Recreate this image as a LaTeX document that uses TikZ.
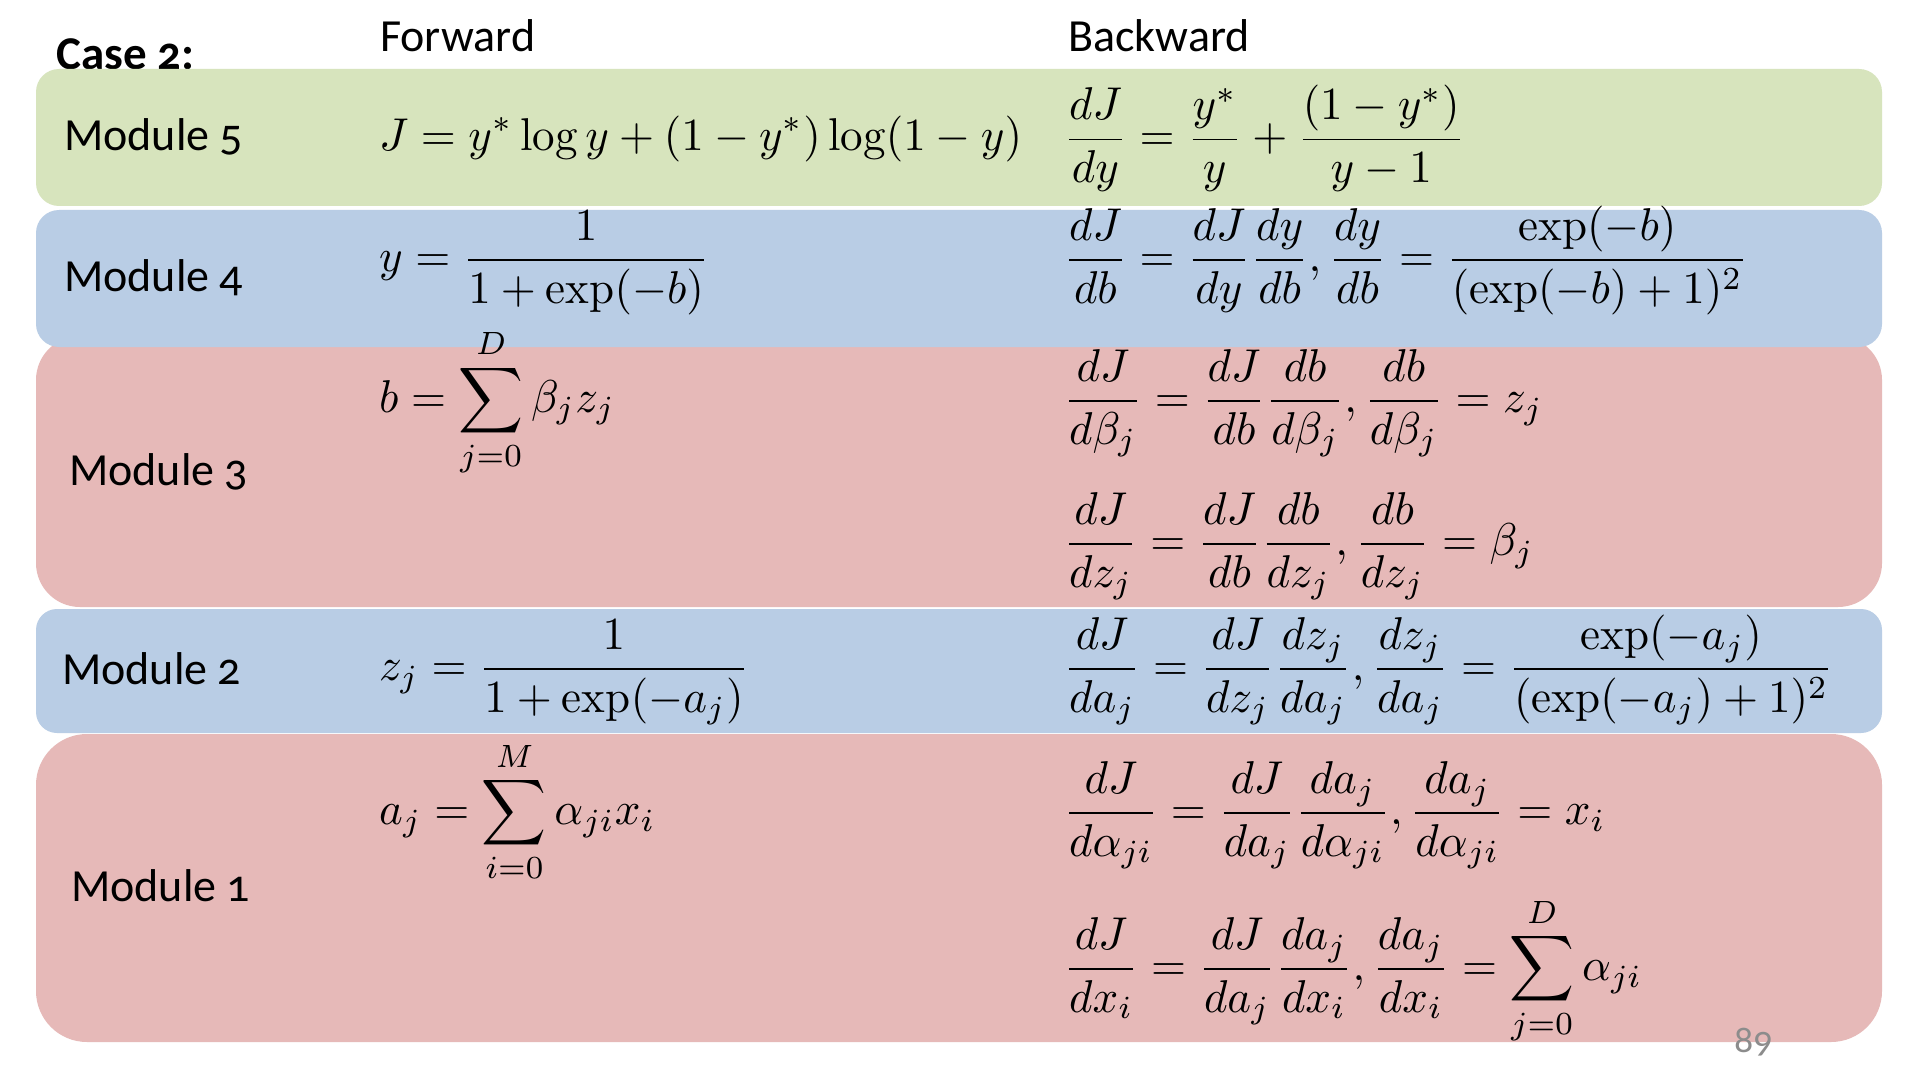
\documentclass[tikz,border=0pt]{standalone}
\usepackage{amsmath}
\usepackage{fontspec}
\newfontfamily\labelfont[Numbers=OldStyle]{Carlito}
\definecolor{greenbox}{HTML}{D7E4BD}
\definecolor{bluebox}{HTML}{B9CDE5}
\definecolor{redbox}{HTML}{E6B9B8}
\definecolor{pagenum}{HTML}{8C8C8C}
\newcommand{\eqscaled}[1]{\scalebox{4.5}[4.6]{$\displaystyle #1$}}
\tikzset{
  lbl/.style={anchor=base west, inner sep=0pt, font=\labelfont\fontsize{46}{55}\selectfont},
  head/.style={anchor=base west, inner sep=0pt, font=\labelfont\fontsize{46}{55}\selectfont},
  eq/.style={anchor=base west, inner sep=0pt, font=\fontsize{10}{12}\selectfont},
}
\begin{document}
\begin{tikzpicture}[x=1pt,y=-1pt]
\useasboundingbox (0,0) rectangle (1932,1078);
\fill[white] (0,0) rectangle (1932,1078);
% header
\node[head, font=\labelfont\bfseries\fontsize{47}{56}\selectfont] (case) at (56,70) {Case 2:};
\node[head] (fwd) at (380,52) {Forward};
\node[head] (bwd) at (1068,52) {Backward};
% boxes
\fill[greenbox, rounded corners=23] (36,69) rectangle (1882,206);
\fill[redbox, rounded corners=44] (36,336) rectangle (1882,607);
\fill[bluebox, rounded corners=23] (36,210) rectangle (1882,347);
\fill[bluebox, rounded corners=21] (36,609) rectangle (1882,733);
\fill[redbox, rounded corners=51] (36,734) rectangle (1882,1042);
% labels
\node[lbl] (l5) at (64,151) {Module 5};
\node[lbl] (l4) at (64,291) {Module 4};
\node[lbl] (l3) at (69,485) {Module 3};
\node[lbl] (l2) at (62,684) {Module 2};
\node[lbl] (l1) at (71,901) {Module 1};
% forward
\node[eq] (f5) at (379,151) {\eqscaled{J = y^*\log y + (1-y^*)\log(1-y)}};
\node[eq] (f4) at (379,271.5) {\eqscaled{y = \frac{1}{1+\exp(-b)}}};
\node[eq] (f3) at (379,412) {\eqscaled{b = \sum_{j=0}^{D}\beta_j z_j}};
\node[eq] (f2) at (379,680.5) {\eqscaled{z_j = \frac{1}{1+\exp(-a_j)}}};
\node[eq] (f1) at (379,824.5) {\eqscaled{a_j = \sum_{i=0}^{M}\alpha_{ji}x_i}};
% backward
\node[eq] (b5) at (1063.5,151) {\eqscaled{\frac{dJ}{dy} = \frac{y^*}{y} + \frac{(1-y^*)}{y-1}}};
\node[eq] (b4) at (1063.5,271.5) {\eqscaled{\frac{dJ}{db} = \frac{dJ}{dy}\frac{dy}{db}, \frac{dy}{db} = \frac{\exp(-b)}{(\exp(-b)+1)^2}}};
\node[eq] (b3a) at (1063.5,412.5) {\eqscaled{\frac{dJ}{d\beta_j} = \frac{dJ}{db}\frac{db}{d\beta_j}, \frac{db}{d\beta_j} = z_j}};
\node[eq] (b3b) at (1063.5,555.5) {\eqscaled{\frac{dJ}{dz_j} = \frac{dJ}{db}\frac{db}{dz_j}, \frac{db}{dz_j} = \beta_j}};
\node[eq] (b2) at (1063.5,680.5) {\eqscaled{\frac{dJ}{da_j} = \frac{dJ}{dz_j}\frac{dz_j}{da_j}, \frac{dz_j}{da_j} = \frac{\exp(-a_j)}{(\exp(-a_j)+1)^2}}};
\node[eq] (b1a) at (1063.5,824.5) {\eqscaled{\frac{dJ}{d\alpha_{ji}} = \frac{dJ}{da_j}\frac{da_j}{d\alpha_{ji}}, \frac{da_j}{d\alpha_{ji}} = x_i}};
\node[eq] (b1b) at (1063.5,980.5) {\eqscaled{\frac{dJ}{dx_i} = \frac{dJ}{da_j}\frac{da_j}{dx_i}, \frac{da_j}{dx_i} = \sum_{j=0}^{D}\alpha_{ji}}};
% page number
\node[anchor=base west, inner sep=0pt, text=pagenum, font=\labelfont\fontsize{38}{44}\selectfont] (pg) at (1734,1052) {89};
\end{tikzpicture}
\end{document}
